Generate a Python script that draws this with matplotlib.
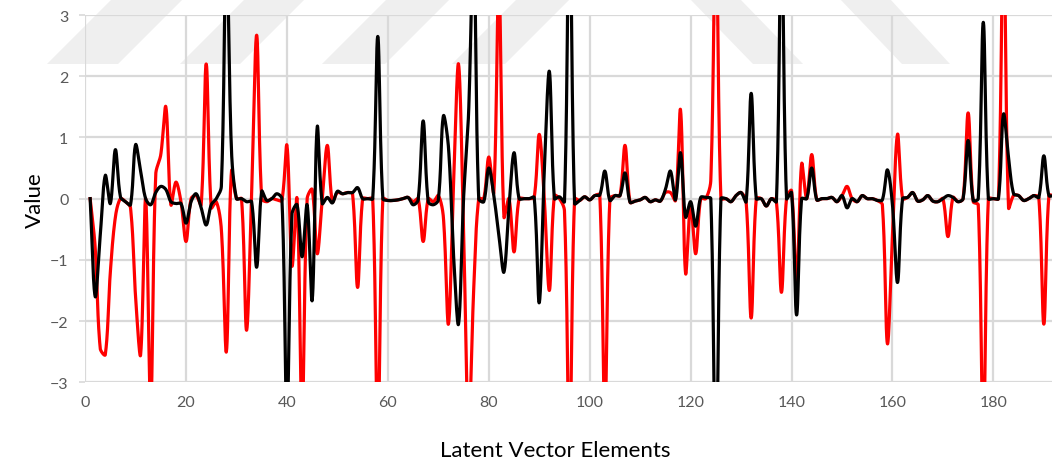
import numpy as np
import matplotlib
matplotlib.use("Agg")
from matplotlib import pyplot as plt
from matplotlib.patches import Polygon

# latent vector element values, x = 1..192
red_values = [
    0.0, -0.8, -2.45, -2.55, -1.2, -0.3, 0.0, -0.05, -0.15, -1.6,
    -2.55, 0.0, -3.4, 0.4, 0.72, 1.5, -0.1, 0.27, -0.05, -0.7,
    0.0, 0.05, -0.1, 2.2, -0.15, -0.05, -0.5, -2.5, 0.45, 0.0,
    0.0, -2.15, 0.1, 2.67, 0.0, -0.05, 0.0, -0.02, -0.03, 0.87,
    -1.1, 0.0, -3.6, 0.0, 0.15, -0.9, 0.0, 0.87, -0.05, 0.1,
    0.08, 0.1, 0.08, -1.45, 0.0, 0.0, 0.0, -4.0, 0.0, -0.03,
    -0.03, -0.02, 0.0, 0.02, -0.05, 0.0, -0.7, 0.0, -0.05, 0.05,
    -0.3, -2.05, 0.2, 2.2, -0.5, -3.8, -1.5, 0.0, 0.0, 0.68,
    0.1, 3.6, -0.3, 0.0, -0.87, 0.0, 0.0, 0.0, 0.02, 1.05,
    0.0, -1.5, 0.05, 0.0, -0.2, -4.2, 0.0, -0.03, 0.03, -0.02,
    0.05, 0.06, -3.6, 0.0, 0.05, 0.05, 0.87, -0.06, -0.04, -0.02,
    0.02, -0.05, -0.02, -0.04, 0.1, 0.1, -0.03, 1.45, -1.22, -0.1,
    -0.9, 0.0, 0.0, 0.3, 4.6, 0.0, 0.0, -0.05, 0.05, 0.1,
    -0.05, -1.95, 0.0, 0.0, -0.12, 0.0, -0.05, -1.53, 0.0, 0.13,
    -1.4, 0.57, 0.0, 0.72, -0.02, 0.0, 0.0, 0.02, -0.05, 0.05,
    0.2, 0.0, -0.05, 0.05, 0.0, 0.0, -0.03, -0.1, -2.37, -0.6,
    1.05, 0.0, 0.02, 0.1, -0.04, -0.02, 0.05, -0.04, -0.05, 0.0,
    -0.62, 0.02, -0.05, 0.0, 1.4, -0.05, -0.1, -4.0, 0.0, 0.0,
    0.0, 4.5, -0.15, 0.05, 0.05, -0.03, 0.0, 0.05, 0.02, -2.05,
    0.05, 0.05,
]

black_values = [
    0.0, -1.6, -0.6, 0.38, -0.08, 0.8, 0.03, -0.05, -0.1, 0.88,
    0.45, 0.0, -0.1, 0.1, 0.2, 0.15, -0.05, -0.08, -0.08, -0.4,
    -0.05, 0.08, -0.15, -0.43, -0.1, 0.0, 0.2, 4.2, 0.8, 0.0,
    0.0, -0.05, -0.05, -1.12, 0.12, -0.03, 0.0, 0.08, 0.0, -3.6,
    -0.25, -0.1, -0.95, -0.1, -1.66, 1.17, -0.08, 0.02, -0.07, 0.12,
    0.08, 0.1, 0.1, 0.18, 0.0, 0.0, 0.0, 2.65, 0.0, -0.03,
    -0.03, -0.02, 0.0, 0.02, -0.1, -0.02, 1.27, -0.05, -0.1, -0.02,
    1.35, 0.85, -0.9, -2.05, 0.0, 1.4, 4.2, 0.0, -0.05, 0.5,
    0.05, -0.6, -1.2, -0.15, 0.75, 0.0, 0.0, 0.0, 0.02, -1.7,
    0.45, 2.08, 0.0, 0.03, -0.05, 5.0, -0.08, -0.03, 0.03, -0.02,
    0.05, 0.06, 0.45, -0.03, 0.05, 0.05, 0.42, -0.06, -0.04, -0.02,
    0.02, -0.05, -0.02, -0.04, 0.15, 0.45, -0.02, 0.75, -0.3, -0.05,
    -0.45, 0.02, 0.02, 0.0, -4.8, 0.0, 0.0, -0.05, 0.05, 0.1,
    -0.05, 1.72, 0.0, 0.0, -0.12, 0.0, -0.05, 4.5, 0.0, 0.1,
    -1.9, 0.0, 0.0, 0.5, -0.02, 0.0, 0.0, 0.02, -0.05, 0.05,
    -0.15, 0.0, -0.05, 0.05, 0.0, 0.0, -0.03, -0.02, 0.47, -0.1,
    -1.37, 0.0, 0.02, 0.1, -0.04, -0.02, 0.05, -0.04, -0.05, 0.0,
    0.05, 0.02, -0.05, 0.0, 0.95, -0.03, 0.0, 2.88, 0.0, 0.0,
    0.0, 1.38, 0.68, 0.08, 0.05, -0.03, 0.0, 0.05, 0.02, 0.7,
    0.05, 0.05,
]

x_ticks = [0, 20, 40, 60, 80, 100, 120, 140, 160, 180]
y_ticks = [-3, -2, -1, 0, 1, 2, 3]

W, H = 1052, 464
x0, y0, y_top = 85.1, 383.3, 16.0
px_per_x = 5.046
px_per_y = (y0 - y_top) / 6
x_max = 192


def smooth(xs, ys, steps=30):
    # spreadsheet-style smoothed line: cubic Bezier per segment, tangents
    # scaled by the on-screen chord lengths so spikes do not ring
    pts = np.column_stack([np.asarray(xs, float), np.asarray(ys, float)])
    scale = np.array([px_per_x, px_per_y])
    n = len(pts)
    t = np.linspace(0, 1, steps, endpoint=False)[:, None]
    out = []
    for i in range(n - 1):
        p0 = pts[max(i - 1, 0)]
        p1 = pts[i]
        p2 = pts[i + 1]
        p3 = pts[min(i + 2, n - 1)]
        d01 = np.hypot(*((p1 - p0) * scale))
        d12 = np.hypot(*((p2 - p1) * scale))
        d23 = np.hypot(*((p3 - p2) * scale))
        f1 = d12 / (3 * (d01 + d12)) if d01 + d12 > 0 else 0
        f2 = d12 / (3 * (d12 + d23)) if d12 + d23 > 0 else 0
        c1 = p1 + (p2 - p0) * f1
        c2 = p2 - (p3 - p1) * f2
        seg = ((1 - t) ** 3 * p1 + 3 * (1 - t) ** 2 * t * c1
               + 3 * (1 - t) * t ** 2 * c2 + t ** 3 * p2)
        out.append(seg)
    out.append(pts[-1:])
    out = np.vstack(out)
    return out[:, 0], out[:, 1]


plt.rcParams["font.family"] = ["Lato", "DejaVu Sans"]

fig = plt.figure(figsize=(W / 100, H / 100), dpi=100)

# faint diagonal band shapes behind the plot (pixel coords, y from top)
bands = [
    [(47, 65), (118, 65), (183, 0), (112, 0)],
    [(180, 65), (240, 65), (305, 0), (245, 0)],
    [(322, 65), (385, 65), (450, 0), (387, 0)],
    [(452, 65), (505, 65), (570, 0), (517, 0)],
    [(690, 0), (740, 0), (803, 65), (753, 65)],
    [(840, 0), (890, 0), (950, 65), (902, 65)],
]
for band in bands:
    pts = [(bx / W, 1 - by / H) for bx, by in band]
    fig.add_artist(Polygon(pts, closed=True, transform=fig.transFigure,
                           facecolor="#efefef", edgecolor="none", zorder=0))

ax = fig.add_axes([x0 / W, (H - y0) / H, x_max * px_per_x / W, (y0 - y_top) / H])
ax.set_facecolor("none")
ax.set_zorder(1)

xs = np.arange(1, len(red_values) + 1)
rx, ry = smooth(xs, red_values)
bx, by = smooth(xs, black_values)
ax.plot(rx, ry, color="#ff0000", lw=2.3, solid_joinstyle="round", zorder=3)
ax.plot(bx, by, color="#000000", lw=2.3, solid_joinstyle="round", zorder=4)

ax.set_xlim(0, x_max)
ax.set_ylim(-3, 3)
ax.set_xticks(x_ticks)
ax.set_yticks(y_ticks)
ax.grid(True, color="#d9d9d9", lw=1.6, zorder=1)
ax.set_axisbelow(True)
for side in ("top", "right", "bottom", "left"):
    ax.spines[side].set_visible(False)
ax.tick_params(axis="x", length=0, pad=9, labelsize=11.5, labelcolor="#595959")
ax.tick_params(axis="y", length=4, width=1.2, color="#d9d9d9", pad=8,
               labelsize=11.5, labelcolor="#595959")

fig.text(555 / W, 1 - 451 / H, "Latent Vector Elements", ha="center", va="center",
         fontsize=16, color="#000000")
fig.text(35 / W, 1 - 200 / H, "Value", ha="center", va="center", rotation=90,
         fontsize=16, color="#000000")

fig.savefig("out.png", dpi=100)
